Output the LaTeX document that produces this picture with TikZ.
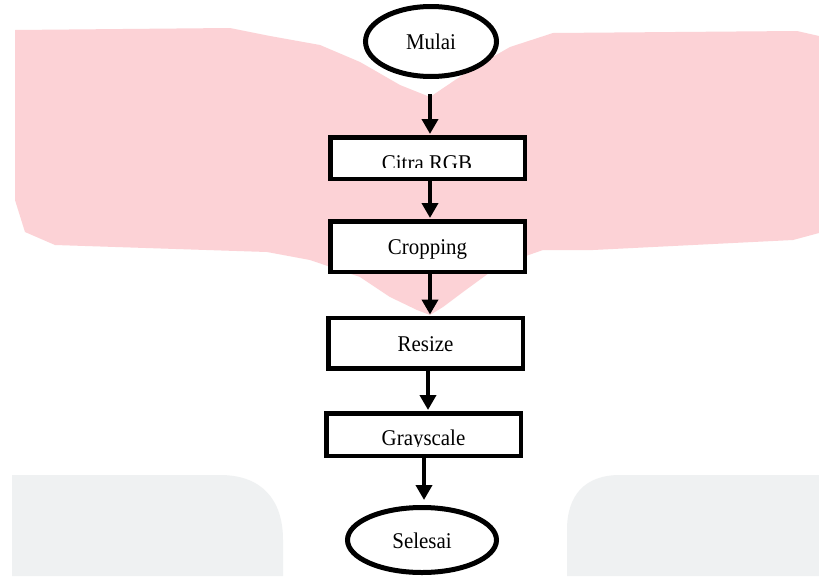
\documentclass[tikz,border=0pt]{standalone}
\usepackage{fontspec}
\setmainfont{Liberation Serif}
\usetikzlibrary{shapes.geometric,arrows.meta,calc}
\definecolor{wmpink}{RGB}{252,210,214}
\definecolor{wmgray}{RGB}{239,241,242}
\newcommand{\fctxt}[1]{\scalebox{0.93}[1]{#1}}
\begin{document}
\begin{tikzpicture}[x=1pt,y=-1pt,
  txtfont/.style={font=\fontsize{22.5}{26}\selectfont},
  procbox/.style={draw, rectangle, line width=4.5pt, fill=white, inner sep=0pt,
    minimum width=194.5pt, txtfont, text height=16pt, text depth=0pt},
  termnode/.style={draw, ellipse, line width=5pt, fill=white, inner sep=0pt,
    txtfont, text height=16pt, text depth=0pt},
  lbltext/.style={txtfont, inner sep=0pt},
  arr/.style={line width=4.5pt, -{Triangle[length=15pt,width=16pt]}}]
\useasboundingbox (0,0) rectangle (819,576);
\fill[white] (0,0) rectangle (819,576);
% watermark
\fill[wmpink] (15,30) -- (230,28) -- (270,36) -- (320,45) -- (360,62) -- (400,85)
  -- (430,97) -- (470,70) -- (510,47) -- (553,33) -- (797,31) -- (819,36)
  -- (819,233) -- (793,240) -- (593,250) -- (543,250) -- (500,265) -- (463,292)
  -- (443,307) -- (430,315) -- (417,310) -- (390,297) -- (360,277) -- (310,260)
  -- (267,252) -- (55,245) -- (25,232) -- (15,200) -- cycle;
\fill[wmgray] (12,576) -- (12,475) -- (220,475) .. controls (262,475) and (283,500) .. (283,540) -- (283,576) -- cycle;
\fill[wmgray] (819,576) -- (819,475) -- (620,475) .. controls (585,475) and (567,495) .. (567,530) -- (567,576) -- cycle;
% nodes
\node[termnode, minimum width=131pt, minimum height=70pt] (mulai) at (431,41.5) {\fctxt{Mulai}};
\node[procbox, minimum height=41.5pt] (citra) at (427.5,158) {};
\node[procbox, minimum height=50.5pt] (crop) at (427.5,246.5) {\fctxt{Cropping}};
\node[procbox, minimum height=50.5pt] (resize) at (425.5,343) {\fctxt{Resize}};
\node[procbox, minimum height=42.5pt] (gray) at (423.5,434.5) {};
\node[termnode, minimum width=149pt, minimum height=65pt] (selesai) at (422,540) {\fctxt{Selesai}};
% clipped labels
\begin{scope}
  \clip (331,138) rectangle (524,167.3);
  \node[lbltext, anchor=base] (citralbl) at (427,170) {\fctxt{Citra RGB}};
\end{scope}
\begin{scope}
  \clip (327,414) rectangle (520,446.6);
  \node[lbltext, anchor=base] (graylbl) at (423.5,445.5) {\fctxt{Grayscale}};
\end{scope}
% connectors
\coordinate (a1s) at (430,94);
\draw[arr, shorten >=1pt] (a1s) -- (a1s |- citra.north);
\draw[arr, shorten >=1pt] ([xshift=2.5pt]citra.south) -- ([xshift=2.5pt]crop.north);
\draw[arr, shorten >=1pt] ([xshift=2.5pt]crop.south) -- ([xshift=2.5pt]crop.south |- resize.north);
\draw[arr, shorten >=1pt] ([xshift=2.5pt]resize.south) -- ([xshift=2.5pt]resize.south |- gray.north);
\draw[arr, shorten >=5pt] ([xshift=0.5pt]gray.south) -- ([xshift=0.5pt]gray.south |- selesai.north);
\end{tikzpicture}
\end{document}
